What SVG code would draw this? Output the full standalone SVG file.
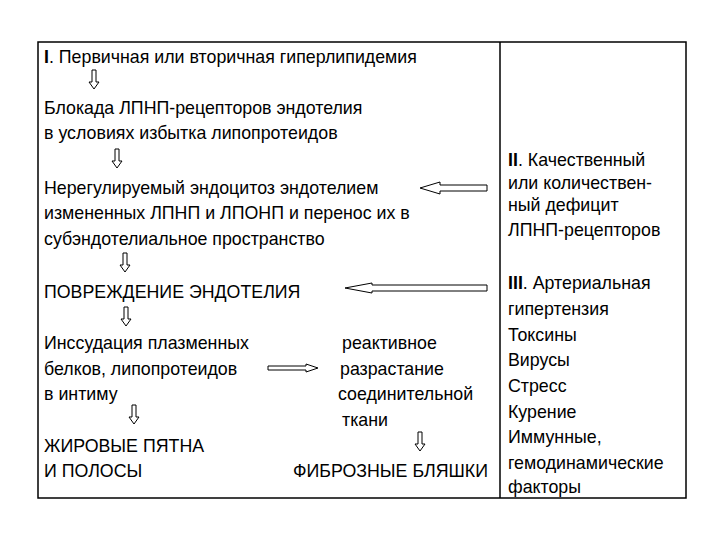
<svg xmlns="http://www.w3.org/2000/svg" width="720" height="540" viewBox="0 0 720 540">
<style>
text{font-family:"Liberation Sans",Arial,sans-serif;font-size:17.8px;fill:#000}
.a{fill:#fff;stroke:#000;stroke-width:1}
</style>
<defs>
<path id="d" class="a" d="M-2,0 H2 V12 H5 L0,19 L-5,12 H-2 Z"/>
</defs>
<rect width="720" height="540" fill="#fff"/>
<rect x="38" y="42" width="648" height="456" fill="none" stroke="#000" stroke-width="1.5"/>
<line x1="500" y1="42" x2="500" y2="498" stroke="#000" stroke-width="1.5"/>
<g id="n1"><text x="44" y="63"><tspan font-weight="bold">I</tspan>. Первичная или вторичная гиперлипидемия</text></g>
<g id="n2"><text x="44" y="114">Блокада ЛПНП-рецепторов эндотелия</text><text x="44" y="139">в условиях избытка липопротеидов</text></g>
<g id="n3"><text x="44" y="194">Нерегулируемый эндоцитоз эндотелием</text><text x="44" y="219">измененных ЛПНП и ЛПОНП и перенос их в</text><text x="44" y="245">субэндотелиальное пространство</text></g>
<g id="n4"><text x="44" y="298">ПОВРЕЖДЕНИЕ ЭНДОТЕЛИЯ</text></g>
<g id="n5"><text x="44" y="349">Инссудация плазменных</text><text x="44" y="375">белков, липопротеидов</text><text x="44" y="400">в интиму</text></g>
<g id="n6"><text x="342" y="349">реактивное</text><text x="340" y="375">разрастание</text><text x="338" y="400">соединительной</text><text x="342" y="426">ткани</text></g>
<g id="n7"><text x="44" y="452">ЖИРОВЫЕ ПЯТНА</text><text x="44" y="477">И ПОЛОСЫ</text></g>
<g id="n8"><text x="293" y="477">ФИБРОЗНЫЕ БЛЯШКИ</text></g>
<g id="n9"><text x="508" y="166"><tspan font-weight="bold">II</tspan>. Качественный</text><text x="508" y="189">или количествен-</text><text x="508" y="211">ный дефицит</text><text x="508" y="236">ЛПНП-рецепторов</text></g>
<g id="n10"><text x="508" y="289"><tspan font-weight="bold">III</tspan>. Артериальная</text><text x="508" y="315">гипертензия</text><text x="508" y="341">Токсины</text><text x="508" y="366">Вирусы</text><text x="508" y="392">Стресс</text><text x="508" y="418">Курение</text><text x="508" y="443">Иммунные,</text><text x="508" y="469">гемодинамические</text><text x="508" y="493">факторы</text></g>
<g id="connectors">
<use href="#d" x="94" y="70"/>
<use href="#d" x="117" y="149"/>
<use href="#d" x="125" y="253"/>
<use href="#d" x="126" y="307"/>
<use href="#d" x="134" y="405"/>
<use href="#d" x="420" y="432"/>
<path class="a" d="M420,188 L440,182 V185 H487 V191 H440 V194 Z"/>
<path class="a" d="M345,288 L372,283 V285 H487 V291 H372 V293 Z"/>
<path class="a" d="M318,368 L306,364 V366 H268 V370 H306 V372 Z"/>
</g>
</svg>
